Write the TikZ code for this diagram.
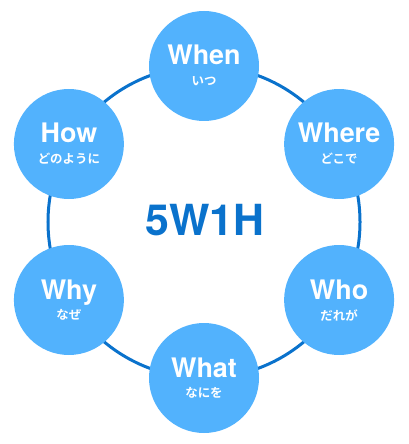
\documentclass[tikz,border=0pt]{standalone}
\usepackage{fontspec}
\usetikzlibrary{calc}
\setmainfont{TeX Gyre Heros}
\newfontfamily\jpfont{Noto Sans CJK JP Bold}
\definecolor{ringblue}{RGB}{10,114,204}
\definecolor{bubble}{RGB}{82,178,253}
\tikzset{
  bubblenode/.style={circle, fill=bubble, minimum size=110bp, inner sep=0pt},
  entext/.style={text=white, font=\bfseries\fontsize{27}{27}\selectfont, anchor=base},
  jptext/.style={text=white, font=\jpfont\fontsize{12.5}{12.5}\selectfont},
}
\begin{document}
\begin{tikzpicture}[x=1bp,y=-1bp]
\useasboundingbox (0,0) rectangle (408,444);
\coordinate (c) at (204,222);
\draw[ringblue, line width=3bp] (c) circle[radius=156bp];
\node[text=ringblue, font=\bfseries\fontsize{43}{43}\selectfont] (title) at (205,220) {5W1H};
\foreach \n/\ang/\en/\jp in {when/90/When/いつ, where/30/Where/どこで, who/-30/Who/だれが, what/-90/What/なにを, why/-150/Why/なぜ, how/150/How/どのように}{
  \node[bubblenode] (\n) at ($(c)+(\ang:156 and -156)$) {};
  \node[entext] (\n-en) at ($(\n.center)+(0,-1)$) {\en};
  \node[jptext] (\n-jp) at ($(\n.center)+(0,15)$) {\jp};
}
\end{tikzpicture}
\end{document}
